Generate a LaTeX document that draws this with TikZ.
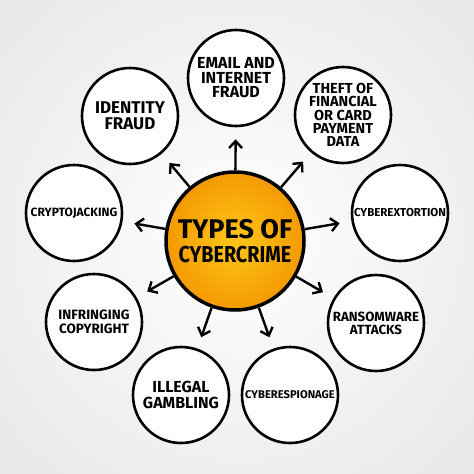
\documentclass[tikz,border=0pt]{standalone}
\usepackage{fontspec}
\newfontfamily\hand{Fira Sans}
\newfontfamily\handc[FakeStretch=0.86]{Fira Sans}
\usetikzlibrary{arrows.meta}
\definecolor{orin}{HTML}{FFC61A}
\definecolor{orout}{HTML}{F39A00}
\definecolor{bgout}{HTML}{E6E6E6}
\newcommand{\fsz}[2]{\fontsize{#1}{#2}\selectfont}
\begin{document}
\begin{tikzpicture}[x=1pt,y=-1pt,
  sat/.style={circle, draw=black, line width=2.6pt, fill=white, minimum size=96pt,
    inner sep=0pt, align=center, font=\hand\bfseries\fsz{13}{14}},
  hub/.style={circle, draw=black, line width=3.5pt, inner color=orin, outer color=orout,
    minimum size=138pt, inner sep=0pt, align=center, font=\hand\bfseries\fsz{27}{23}},
  arr/.style={-{Straight Barb[length=7pt,width=13pt]}, line width=2.4pt, shorten >=12pt}]
\useasboundingbox (0,0) rectangle (474,474);
\shade[inner color=white, outer color=bgout] (-120,-120) rectangle (594,594);
\node[hub] (c) at (235,241) {TYPES OF\\[1pt]{\handc\bfseries\fsz{23}{23}CYBERCRIME}};
\node[sat, font=\hand\bfseries\fsz{16}{14.5}] (email) at (236,78) {EMAIL AND\\INTERNET\\FRAUD};
\node[sat, font=\hand\bfseries\fsz{14.5}{13.4}] (theft) at (343,115) {THEFT OF\\FINANCIAL\\OR CARD\\PAYMENT\\DATA};
\node[sat, font=\hand\bfseries\fsz{17}{16}] (ident) at (130,116) {IDENTITY\\FRAUD};
\node[sat, font=\hand\bfseries\fsz{12}{12}] (crypto) at (74,213) {CRYPTOJACKING};
\node[sat, font=\hand\bfseries\fsz{11.5}{12}] (extort) at (400,213) {CYBEREXTORTION};
\node[sat, font=\hand\bfseries\fsz{13.5}{14}] (infr) at (94,322) {INFRINGING\\COPYRIGHT};
\node[sat, font=\hand\bfseries\fsz{13.3}{12.8}] (ransom) at (376,323) {RANSOMWARE\\ATTACKS};
\node[sat, font=\hand\bfseries\fsz{16}{15.5}] (gamb) at (181,395) {ILLEGAL\\GAMBLING};
\node[sat, font=\hand\bfseries\fsz{11.2}{12}] (esp) at (290,395) {CYBERESPIONAGE};
\foreach \t in {email,theft,ident,crypto,extort,infr,ransom,gamb,esp}
  \draw[arr] (c) -- (\t);
\end{tikzpicture}
\end{document}
